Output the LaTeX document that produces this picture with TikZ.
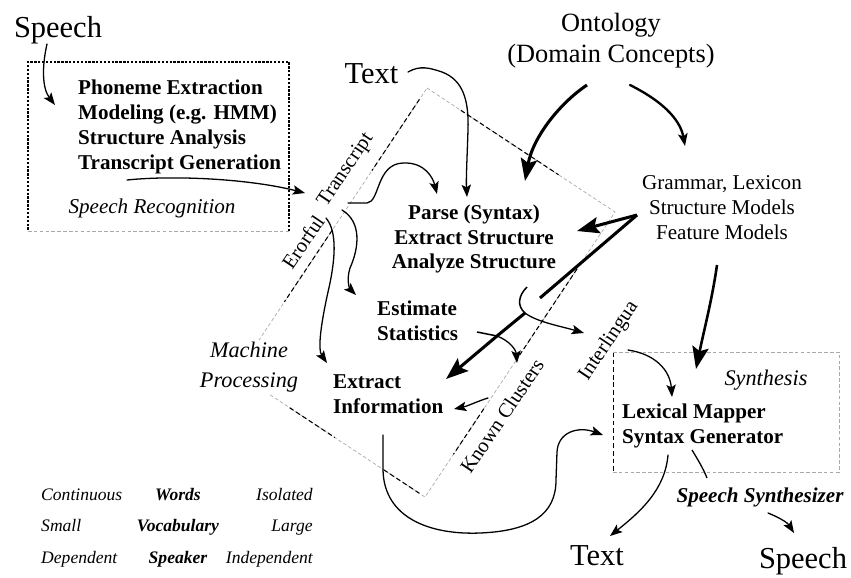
\documentclass[tikz,border=0pt]{standalone}
\usepackage{fontspec}
\setmainfont{Liberation Serif}
\usetikzlibrary{arrows.meta,calc}
\definecolor{dashgray}{HTML}{A9A9A9}

\begin{document}
\begin{tikzpicture}[x=0.03cm,y=-0.03cm,
  flow/.style={line width=1.1pt,line cap=round,-{Stealth[length=10.5pt,width=8pt,inset=2.2pt]}},
  heavyflow/.style={line width=2.6pt,-{Stealth[length=19pt,width=14pt,inset=3.5pt]}},
  darkdash/.style={line width=0.9pt,dash pattern=on 4pt off 2.5pt},
  lightdash/.style={dashgray,line width=0.6pt,dash pattern=on 3pt off 2pt},
  srdot/.style={line width=1.1pt,dash pattern=on 2pt off 1.3pt},
  bigword/.style={font=\fontsize{26}{30}\selectfont,inner sep=0pt},
  steps/.style={font=\fontsize{18}{21.25}\selectfont\bfseries,align=left,anchor=west,inner sep=0pt},
  plain/.style={font=\fontsize{18}{21.25}\selectfont,align=center,inner sep=0pt},
  stage/.style={font=\fontsize{19}{25}\selectfont\itshape,align=center,inner sep=0pt},
  edgetag/.style={font=\fontsize{17.5}{20}\selectfont,rotate=56,inner sep=0pt},
  legend/.style={font=\fontsize{15}{18}\selectfont\itshape,inner sep=0pt}]
\useasboundingbox (0,0) rectangle (851,577);

\coordinate (mptop) at (427,88);
\coordinate (mpright) at (615,212);
\coordinate (mpbottom) at (425,497);
\coordinate (mpleft) at (237,373);
\draw[lightdash] (mptop) -- (mpright) -- (mpbottom) -- (mpleft) -- cycle;
\foreach \a/\b/\s/\e in {mptop/mpleft/0.04/0.29, mptop/mpleft/0.5/0.75,
    mptop/mpright/0.18/0.7, mpright/mpbottom/0.2/0.52, mpright/mpbottom/0.69/0.85,
    mpleft/mpbottom/0.28/0.52, mpleft/mpbottom/0.78/0.97}
  \draw[darkdash] ($(\a)!\s!(\b)$) -- ($(\a)!\e!(\b)$);

\draw[srdot] (289,231) -- (289,62) -- (28,62) -- (28,231);
\draw[lightdash] (28,231) -- (289,231);
\draw[darkdash,line width=0.6pt] (613,352) -- (613,472);
\draw[lightdash] (613,472) -- (839,472) -- (839,352) -- (613,352);

\node[bigword,anchor=base] (speechin) at (58,37) {Speech};
\node[steps] (recsteps) at (78,127) {Phoneme Extraction\\Modeling (e.g. HMM)\\Structure Analysis\\Transcript Generation};
\node[font=\fontsize{18}{21.25}\selectfont\itshape,inner sep=0pt] (reclabel) at (152,208) {Speech Recognition};
\node[bigword,anchor=base] (textin) at (371.5,83) {Text};
\node[font=\fontsize{22.5}{26.4}\selectfont,align=center,inner sep=0pt] (ontology) at (611,41) {Ontology\\(Domain Concepts)};
\node[plain] (models) at (722,208) {Grammar, Lexicon\\Structure Models\\Feature Models};
\node[plain,font=\fontsize{18}{21.25}\selectfont\bfseries] (parse) at (474,239) {Parse (Syntax)\\Extract Structure\\Analyze Structure};
\node[steps] (stats) at (377,321) {Estimate\\Statistics};
\node[steps] (extract) at (333,394) {Extract\\Information};
\node[stage,fill=white,inner sep=2pt] (mplabel) at (249,367) {Machine\\Processing};
\node[edgetag] (errtag) at (303,242) {Erorful};
\node[edgetag] (transtag) at (346,170) {Transcript};
\node[edgetag] (clustag) at (502,416) {Known Clusters};
\node[edgetag] (intertag) at (609,341) {Interlingua};
\node[stage] (synlabel) at (766,380) {Synthesis};
\node[steps] (mapper) at (622,426) {Lexical Mapper\\Syntax Generator};
\node[font=\fontsize{18}{21.25}\selectfont\bfseries\itshape,inner sep=0pt] (synth) at (760,497) {Speech Synthesizer};
\node[bigword,anchor=base] (textout) at (597,565) {Text};
\node[bigword,anchor=base] (speechout) at (803,568) {Speech};

\foreach \lw/\kind/\hg [count=\r] in {Continuous/Words/Isolated,Small/Vocabulary/Large,Dependent/Speaker/Independent} {
  \node[legend,anchor=base west] (lw\r) at (41,468.5+31.5*\r) {\lw};
  \node[legend,anchor=base,font=\fontsize{15}{18}\selectfont\bfseries\itshape] (kind\r) at (178,468.5+31.5*\r) {\kind};
  \node[legend,anchor=base east] (hg\r) at (313,468.5+31.5*\r) {\hg};
}

\coordinate (srfrom) at (47,44);
\coordinate (srin) at (55,105);
\coordinate (trfrom) at (127,180);
\coordinate (trto) at (305,193);
\coordinate (parsefrom) at (348,203);
\coordinate (parsein) at (437,194);
\coordinate (statsfrom) at (342,210);
\coordinate (statsin) at (356,295);
\coordinate (extfrom) at (326,218);
\coordinate (extin) at (327,363);
\coordinate (textfrom) at (408,72);
\coordinate (parsetop) at (467,197);
\coordinate (ontoleft) at (587,85);
\coordinate (parseonto) at (525,181);
\coordinate (ontoright) at (630,85);
\coordinate (modelsin) at (685,146);
\coordinate (gramhub) at (637,215);
\coordinate (parseright) at (577,231);
\coordinate (gramtail) at (540,298);
\coordinate (brtop) at (527,287);
\coordinate (split1) at (525,313);
\coordinate (interin) at (584,333);
\coordinate (split2) at (497,336);
\coordinate (extractin) at (446,379);
\coordinate (statsout) at (477,332);
\coordinate (clusin) at (517,363);
\coordinate (clusfrom) at (488,398);
\coordinate (extractright) at (454,409);
\coordinate (loopfrom) at (383,435);
\coordinate (mapperin) at (603,435);
\coordinate (interfrom) at (628,350);
\coordinate (mappertop) at (672,397);
\coordinate (modelsfrom) at (717,265);
\coordinate (synthin) at (696,369);
\coordinate (mapperout) at (668,455);
\coordinate (textoutin) at (610,536);
\coordinate (synfrom) at (692,450);
\coordinate (synthtop) at (707,478);
\coordinate (synthout) at (768,513);
\coordinate (speechin2) at (794,533);

\draw[flow] (srfrom) .. controls (42,66) and (42,88) .. (srin);
\draw[flow] (trfrom) .. controls (175,175) and (250,179) .. (trto);
\draw[flow] (parsefrom) -- (367,203) .. controls (380,202) and (376,164) .. (403,163) .. controls (425,162) and (433,178) .. (parsein);
\draw[flow] (statsfrom) .. controls (362,222) and (359,248) .. (350,268) .. controls (346,281) and (350,289) .. (statsin);
\draw[flow] (extfrom) .. controls (338,232) and (335,262) .. (328,292) .. controls (320,328) and (318,350) .. (extin);
\draw[flow] (textfrom) .. controls (420,65) and (430,68) .. (442,72) .. controls (463,80) and (469,100) .. (468,130) .. controls (467,160) and (466,180) .. (parsetop);
\draw[heavyflow] (ontoleft) .. controls (560,103) and (533,137) .. (parseonto);
\draw[flow,line width=2pt] (ontoright) .. controls (660,100) and (680,118) .. (modelsin);
\draw[heavyflow] (gramhub) -- (parseright);
\draw[line width=2.6pt] (gramhub) -- (gramtail);
\draw[line width=1.3pt] (brtop) .. controls (518,296) and (517,306) .. (split1);
\draw[flow] (split1) .. controls (537,322) and (560,326) .. (interin);
\draw[heavyflow] (split1) -- (split2) -- (extractin);
\draw[line width=1.3pt] (statsout) -- (split2);
\draw[flow] (split2) .. controls (510,341) and (516,350) .. (clusin);
\draw[flow] (clusfrom) .. controls (478,401) and (468,406) .. (extractright);
\draw[flow] (loopfrom) -- (383,470) .. controls (384,518) and (430,535) .. (480,533) .. controls (530,531) and (556,515) .. (556,480) -- (557,452) .. controls (558,432) and (578,426) .. (mapperin);
\draw[flow] (interfrom) .. controls (655,354) and (670,370) .. (mappertop);
\draw[heavyflow,line width=2.2pt] (modelsfrom) .. controls (712,300) and (704,330) .. (synthin);
\draw[flow] (mapperout) .. controls (665,490) and (640,512) .. (textoutin);
\draw[line width=1.1pt] (synfrom) .. controls (698,460) and (703,468) .. (synthtop);
\draw[flow] (synthout) .. controls (778,517) and (787,522) .. (speechin2);
\end{tikzpicture}
\end{document}
